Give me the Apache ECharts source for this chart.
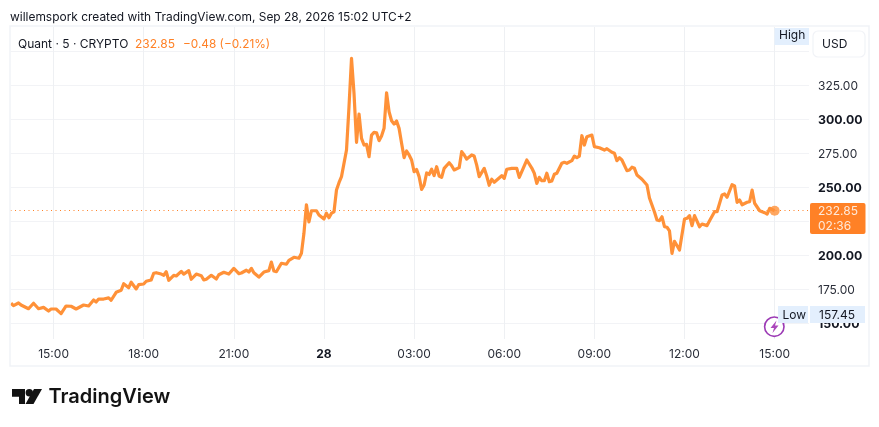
<!DOCTYPE html>
<html><head><meta charset="utf-8">
<style>html,body{margin:0;padding:0;background:#fff}#c{width:879px;height:427px}</style>
<script src="https://cdn.jsdelivr.net/npm/echarts@6/dist/echarts.min.js"></script>
</head><body><div id="c"></div>
<script>
// minutes since 00:00 on Sep 27
const minutes = [815,820,830,835,850,860,870,880,890,895,905,915,925,935,945,960,970,980,985,990,1000,1010,1015,1025,1035,1040,1050,1055,1065,1070,1080,1085,1095,1100,1105,1115,1120,1125,1130,1140,1145,1155,1160,1170,1175,1185,1195,1200,1205,1215,1225,1230,1240,1250,1260,1270,1275,1285,1290,1295,1300,1310,1320,1330,1335,1340,1345,1355,1365,1370,1380,1390,1395,1400,1405,1410,1415,1425,1430,1440,1445,1450,1455,1460,1465,1470,1475,1485,1490,1495,1500,1505,1510,1515,1520,1525,1530,1535,1540,1545,1550,1555,1560,1565,1570,1575,1580,1585,1590,1595,1600,1605,1610,1615,1620,1625,1630,1635,1640,1645,1650,1655,1660,1665,1670,1675,1680,1690,1695,1700,1710,1715,1720,1725,1735,1740,1745,1750,1760,1765,1770,1775,1780,1795,1800,1805,1815,1825,1830,1845,1855,1860,1865,1870,1875,1880,1885,1890,1895,1900,1905,1915,1920,1925,1935,1940,1945,1950,1955,1960,1965,1975,1980,1990,2000,2005,2015,2020,2025,2030,2035,2045,2050,2055,2060,2065,2075,2085,2090,2100,2105,2110,2115,2120,2125,2130,2135,2140,2150,2160,2165,2170,2175,2180,2190,2195,2205,2210,2220,2225,2235,2240,2245,2255,2260,2265,2270,2275,2285,2290,2295,2300,2310,2320,2325,2330,2340];
const prices = [165.0,163.2,165.2,163.7,161.0,165.0,161.0,162.0,159.3,160.8,160.8,157.45,163.0,162.8,160.8,163.7,163.0,167.4,165.9,168.1,168.1,168.9,167.2,173.0,174.5,179.3,176.4,180.4,175.5,178.6,179.1,181.1,182.1,187.0,187.4,186.4,185.5,188.1,181.8,185.5,185.0,188.4,186.4,188.9,182.6,186.4,185.2,182.1,182.6,185.5,182.8,185.9,187.7,186.4,190.6,186.7,187.2,189.2,187.9,190.6,187.4,184.2,187.9,188.9,195.2,188.6,188.1,194.3,193.6,196.5,198.7,198.0,201.6,216.3,237.2,224.6,232.8,232.8,229.7,226.8,231.0,227.7,231.0,232.0,248.0,253.4,257.8,277.3,309.1,344.6,318.9,283.0,303.7,285.9,281.0,281.5,272.4,288.3,290.3,290.0,284.2,287.6,293.2,319.3,305.4,298.8,296.4,298.6,293.2,282.3,271.8,276.6,273.7,270.0,261.4,263.0,257.8,248.5,251.7,260.5,259.4,263.2,258.6,265.1,258.3,257.3,263.9,268.0,265.8,262.7,264.4,276.1,273.7,270.7,273.7,272.9,266.3,257.8,263.9,258.3,251.5,255.9,253.7,258.5,256.6,263.2,263.9,263.9,257.3,270.0,264.1,260.3,252.9,257.3,254.8,254.8,260.3,254.1,254.6,259.5,260.3,267.6,268.3,267.6,269.5,272.9,271.7,272.9,287.8,281.0,287.1,288.3,279.8,279.0,277.3,278.3,275.7,274.9,269.5,271.7,270.0,262.2,262.7,264.7,263.9,259.0,255.9,251.7,242.2,231.9,226.0,225.5,228.4,221.1,220.7,218.0,201.6,210.4,204.0,226.8,227.3,229.2,221.9,229.2,221.1,223.1,221.9,225.5,232.1,232.1,244.4,245.1,242.7,251.9,251.0,239.0,240.7,237.2,239.0,239.4,248.0,238.3,232.8,231.4,230.4,234.6,232.85];
const xTickValues = [900,1080,1260,1440,1620,1800,1980,2160,2340];
const xTickLabels = ['15:00','18:00','21:00','28','03:00','06:00','09:00','12:00','15:00'];
const yTickValues = [150,175,200,225,250,275,300,325];
const yGridValues = [150,175,200,225,250,275,300,325,350];
const boldYTicks = [150,200,250,300];
const lastPrice = 232.85;
const lastMinute = 2340;

const ORANGE='#ff9138', TAG='#ff8126', INK='#131722', GRID='#f2f3f6', GRIDV='#eef0f3', BLUE='#e3effd', FRAME='#f1f3f7';
const FONT='Inter, "Liberation Sans", sans-serif';
const txt=(x,y,text,o)=>({type:'text',z:100,x,y,style:Object.assign({text,fill:INK,font:'12px '+FONT,textVerticalAlign:'middle'},o||{})});
const rect=(x,y,w,h,o,r)=>({type:'rect',z:99,shape:{x,y,width:w,height:h,r:r||0},style:o});

const chart=echarts.init(document.getElementById('c'),null,{renderer:'canvas'});
chart.setOption({
  animation:false,
  backgroundColor:'#fff',
  grid:{left:10.5,right:70,top:27,bottom:88,containLabel:false},
  xAxis:{type:'value',min:814,max:2408.6,
    axisLine:{show:false},
    axisTick:{show:false,customValues:xTickValues},
    splitLine:{show:true,customValues:xTickValues,lineStyle:{color:GRIDV,width:1}},
    axisLabel:{customValues:xTickValues,margin:9,fontFamily:FONT,fontSize:12,color:'#2a2e39',
      formatter:v=>{const s=xTickLabels[xTickValues.indexOf(v)];return s==='28'?'{b|28}':s;},
      rich:{b:{fontFamily:FONT,fontSize:12,fontWeight:'bold',color:INK}}}},
  yAxis:{type:'value',position:'right',min:138.8,max:367.5,
    axisLine:{show:false},
    axisTick:{show:false,customValues:yGridValues},
    splitLine:{show:true,customValues:yGridValues,lineStyle:{color:GRID,width:1}},
    axisLabel:{customValues:yTickValues,margin:9,padding:[2,0,0,0],fontFamily:FONT,fontSize:12,color:'#2a2e39',
      formatter:v=>{const s=v.toFixed(2);return boldYTicks.includes(v)?'{b|'+s+'}':s;},
      rich:{b:{fontFamily:FONT,fontSize:12.3,fontWeight:'bold',color:INK}}}},
  series:[
    {type:'line',data:minutes.map((m,i)=>[m,prices[i]]),symbol:'none',smooth:false,z:3,
     lineStyle:{color:ORANGE,width:3.2,join:'round'}},
    {type:'line',data:[],z:1,
     markLine:{silent:true,symbol:'none',animation:false,z:1,label:{show:false},
       lineStyle:{color:'#ff8126',type:[1,3.5],width:1,opacity:1},data:[{yAxis:lastPrice}]}},
    {type:'scatter',data:[[lastMinute,lastPrice]],symbolSize:10,itemStyle:{color:ORANGE},z:6}
  ],
  graphic:{elements:[
    rect(10,26,859,340,{fill:'none',stroke:FRAME,lineWidth:1.5}),
    txt(10,17,'willemspork created with TradingView.com, Sep 28, 2026 15:02 UTC+2',{font:'11.95px '+FONT}),
    txt(18,44.5,'Quant · 5 · CRYPTO',{font:'12px '+FONT}),
    txt(135,44.5,'232.85',{fill:TAG,font:'12px '+FONT}),
    txt(183,44.5,'−0.48 (−0.21%)',{fill:TAG,font:'11.8px '+FONT}),
    rect(774.5,28,34.5,17,{fill:BLUE}),
    txt(779,35.5,'High',{font:'12px '+FONT}),
    rect(813,31,52,26,{fill:'#fff',stroke:FRAME,lineWidth:1.2},5),
    txt(822,44.5,'USD',{font:'12px '+FONT}),
    rect(810,203,55.5,31,{fill:TAG},2),
    txt(818,211.5,'232.85',{fill:'#ffe9d9',font:'12px '+FONT}),
    txt(818,226,'02:36',{fill:'#ffe9d9',font:'12px '+FONT}),
    {type:'circle',z:98,shape:{cx:774.3,cy:326.7,r:9.7},style:{fill:'#fff',stroke:'#9c3bb5',lineWidth:1.6}},
    {type:'polygon',z:98,shape:{points:[[776.5,320.5],[770.5,328],[774,328],[772.5,333],[778.5,325.5],[775,325.5]]},style:{fill:'#ab47bc'}},
    rect(778,306,30,17,{fill:BLUE}),
    txt(782.5,315,'Low',{font:'12px '+FONT}),
    rect(810,306,55,17,{fill:BLUE}),
    txt(819,315,'157.45',{font:'12px '+FONT}),
    {type:'polygon',z:100,shape:{points:[[12,389],[25,389],[25,404],[19,404],[19,396.7],[12,396.7]]},style:{fill:'#131313'}},
    {type:'circle',z:100,shape:{cx:29.3,cy:392.7,r:3.7},style:{fill:'#131313'}},
    {type:'polygon',z:100,shape:{points:[[34,389],[42,389],[33.5,404],[25.5,404]]},style:{fill:'#131313'}},
    txt(48.5,397,'TradingView',{fill:'#131313',font:'600 20px '+FONT})
  ]}
});
</script></body></html>
